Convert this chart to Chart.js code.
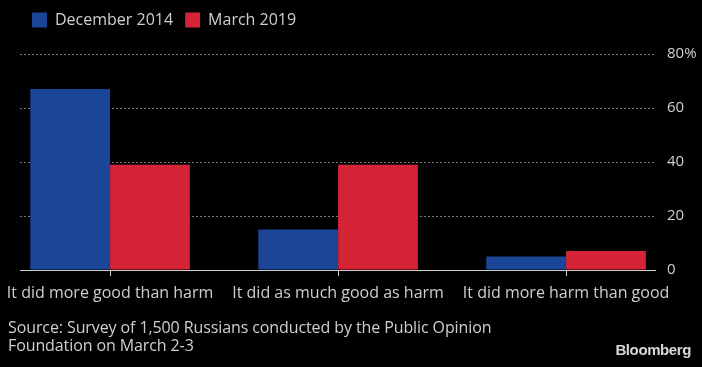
<!DOCTYPE html>
<html>
<head>
<meta charset="utf-8">
<script src="https://cdn.jsdelivr.net/npm/chart.js@4/dist/chart.umd.min.js"></script>
<style>
  html, body { margin: 0; padding: 0; background: #000; }
  #wrap { position: relative; width: 702px; height: 367px; overflow: hidden; }
  #source {
    position: absolute; left: 8px; top: 318px;
    font-family: "Open Sans", "DejaVu Sans", sans-serif;
    font-size: 16px; line-height: 18px; letter-spacing: -0.1px; color: #cfcfcf;
  }
  #brand {
    position: absolute; right: 11px; top: 341px;
    font-family: "Liberation Sans", Arial, sans-serif; font-weight: bold;
    font-size: 15px; letter-spacing: -0.4px; color: #d8d8d8;
  }
</style>
</head>
<body>
<div id="wrap">
  <canvas id="chart" width="702" height="367"></canvas>
  <div id="source">Source: Survey of 1,500 Russians conducted by the Public Opinion<br>Foundation on March 2-3</div>
  <div id="brand">Bloomberg</div>
</div>
<script>
"use strict";

const categories = [
  "It did more good than harm",
  "It did as much good as harm",
  "It did more harm than good",
];
const dec2014 = [67, 15, 5];
const mar2019 = [39, 39, 7];
const yTicks = [0, 20, 40, 60, 80];

const TEXT = "#cfcfcf";
const FONT = "'Open Sans', 'DejaVu Sans', sans-serif";

const toPoints = (values) => values.map((v, i) => ({ x: i, y: v }));

// extra room between the legend row and the plot
const legendGap = {
  id: "legendGap",
  beforeInit(chart) {
    const legend = chart.legend;
    if (!legend) return;
    const fit = legend.fit.bind(legend);
    legend.fit = function () {
      fit();
      this.height += 16;
    };
  },
};

new Chart(document.getElementById("chart"), {
  type: "bar",
  data: {
    datasets: [
      {
        label: "December 2014",
        data: toPoints(dec2014),
        backgroundColor: "#1b4597",
        borderWidth: 0,
      },
      {
        label: "March 2019",
        data: toPoints(mar2019),
        backgroundColor: "#d42435",
        borderWidth: 0,
      },
    ],
  },
  plugins: [legendGap],
  options: {
    responsive: false,
    animation: false,
    layout: { padding: { left: 20, right: 0, top: 0, bottom: 57 } },
    datasets: {
      bar: { categoryPercentage: 0.7, barPercentage: 1.0, clip: false },
    },
    plugins: {
      tooltip: { enabled: false },
      legend: {
        position: "top",
        align: "start",
        labels: {
          boxWidth: 15,
          boxHeight: 15,
          padding: 12,
          color: TEXT,
          font: { family: FONT, size: 16 },
        },
      },
    },
    scales: {
      x: {
        type: "linear",
        position: "bottom",
        offset: false,
        min: -0.395,
        max: 2.39,
        afterBuildTicks: (scale) => {
          scale.ticks = categories.map((_, i) => ({ value: i }));
        },
        afterFit: (scale) => {
          scale.height = 40;
          scale.paddingLeft = 0;
          scale.paddingRight = 0;
        },
        grid: {
          offset: false,
          drawOnChartArea: false,
          drawTicks: true,
          tickLength: 6,
          color: "#cccccc",
        },
        border: { display: true, color: "#cccccc", width: 1 },
        ticks: {
          autoSkip: false,
          maxRotation: 0,
          padding: 8,
          color: TEXT,
          font: { family: FONT, size: 16 },
          callback: (value) => categories[value] ?? "",
        },
      },
      y: {
        position: "right",
        min: 0,
        max: 80,
        afterBuildTicks: (scale) => {
          scale.ticks = yTicks.map((v) => ({ value: v }));
        },
        afterFit: (scale) => {
          scale.width = 47;
        },
        grid: {
          drawTicks: false,
          lineWidth: 1,
          color: (ctx) => (ctx.tick && ctx.tick.value === 0 ? "rgba(0,0,0,0)" : "#7a7a7a"),
        },
        border: { display: false, dash: [2, 2] },
        ticks: {
          padding: 12,
          color: TEXT,
          font: { family: FONT, size: 15 },
          callback: (value) => (value === 80 ? "80%" : String(value)),
        },
      },
    },
  },
});
</script>
</body>
</html>
